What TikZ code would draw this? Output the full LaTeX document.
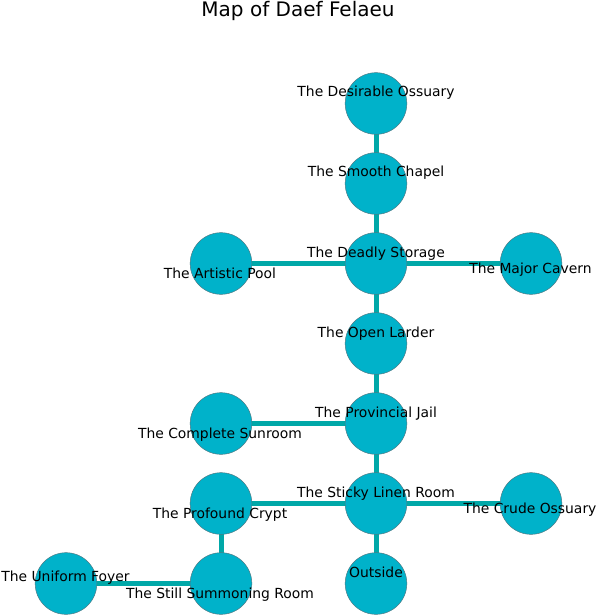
\documentclass[tikz,border=0pt]{standalone}
\usepackage{fontspec}
\setmainfont{DejaVu Sans}
\definecolor{roomfill}{RGB}{0,178,202}
\definecolor{roomedge}{RGB}{80,120,130}
\definecolor{passage}{RGB}{0,168,168}
\begin{document}
\begin{tikzpicture}[x=0.72bp,y=-0.72bp,
  room/.style={circle,fill=roomfill,draw=roomedge,line width=0.35bp,minimum size=44.4bp,inner sep=0pt},
  lbl/.style={anchor=base,inner sep=0pt,font=\fontsize{10bp}{12bp}\selectfont},
  passage line/.style={draw=passage,line width=3.6bp}]
\useasboundingbox (0,0) rectangle (597,615);
\node[anchor=base,inner sep=0pt,font=\fontsize{14.4bp}{17bp}\selectfont] (title) at (298,17) {Map of Daef Felaeu};
% room positions
\coordinate (pDes) at (376,103.5);
\coordinate (pSmo) at (376,183.5);
\coordinate (pDea) at (376,263.5);
\coordinate (pArt) at (221,263.5);
\coordinate (pMaj) at (531,263.5);
\coordinate (pOpe) at (376,343.5);
\coordinate (pPro) at (376,423.5);
\coordinate (pCom) at (221,423.5);
\coordinate (pSti) at (376,503.5);
\coordinate (pPrf) at (221,503.5);
\coordinate (pCru) at (531,503.5);
\coordinate (pOut) at (376,583.5);
\coordinate (pSum) at (221,583.5);
\coordinate (pUni) at (66,583.5);
% passages
\path[passage line] (pDes) -- (pSmo);
\path[passage line] (pSmo) -- (pDea);
\path[passage line] (pDea) -- (pArt);
\path[passage line] (pDea) -- (pMaj);
\path[passage line] (pDea) -- (pOpe);
\path[passage line] (pOpe) -- (pPro);
\path[passage line] (pPro) -- (pCom);
\path[passage line] (pPro) -- (pSti);
\path[passage line] (pSti) -- (pPrf);
\path[passage line] (pSti) -- (pCru);
\path[passage line] (pSti) -- (pOut);
\path[passage line] (pPrf) -- (pSum);
\path[passage line] (pSum) -- (pUni);
% rooms
\node[room] (Des) at (pDes) {};
\node[room] (Smo) at (pSmo) {};
\node[room] (Dea) at (pDea) {};
\node[room] (Art) at (pArt) {};
\node[room] (Maj) at (pMaj) {};
\node[room] (Ope) at (pOpe) {};
\node[room] (Pro) at (pPro) {};
\node[room] (Com) at (pCom) {};
\node[room] (Sti) at (pSti) {};
\node[room] (Prf) at (pPrf) {};
\node[room] (Cru) at (pCru) {};
\node[room] (Out) at (pOut) {};
\node[room] (Sum) at (pSum) {};
\node[room] (Uni) at (pUni) {};
% labels
\node[lbl] (lDes) at (376,97) {The Desirable Ossuary};
\node[lbl] (lSmo) at (376,177) {The Smooth Chapel};
\node[lbl] (lDea) at (376,257) {The Deadly Storage};
\node[lbl] (lArt) at (220,278.8) {The Artistic Pool};
\node[lbl] (lMaj) at (530.5,273.8) {The Major Cavern};
\node[lbl] (lOpe) at (376,337) {The Open Larder};
\node[lbl] (lPro) at (376,417) {The Provincial Jail};
\node[lbl] (lCom) at (220,438.8) {The Complete Sunroom};
\node[lbl] (lSti) at (376,497) {The Sticky Linen Room};
\node[lbl] (lPrf) at (220,518.8) {The Profound Crypt};
\node[lbl] (lCru) at (530,513.5) {The Crude Ossuary};
\node[lbl] (lOut) at (376,577) {Outside};
\node[lbl] (lSum) at (220,598.8) {The Still Summoning Room};
\node[lbl] (lUni) at (65.5,581.3) {The Uniform Foyer};
\end{tikzpicture}
\end{document}
